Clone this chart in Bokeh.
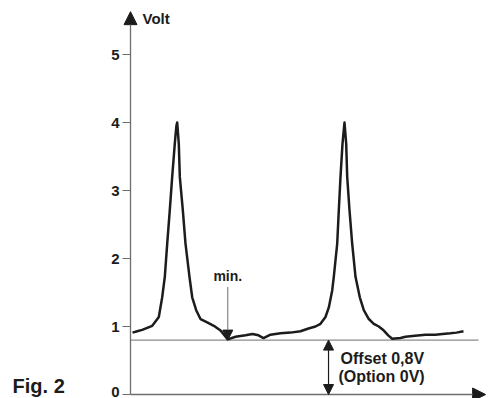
from bokeh.plotting import figure
from bokeh.models import Range1d, Arrow, NormalHead, Label, ColumnDataSource
from bokeh.core.properties import value
from bokeh.embed import file_html
from bokeh.resources import INLINE

# ---- data (time in arbitrary units 0..100, voltage in V) ----
time = [0.57, 1.90, 3.31, 4.73, 6.15, 6.60, 8.02, 8.98, 9.72, 10.40, 11.13, 11.81,
        12.55, 12.75, 13.03, 13.23, 13.68, 13.97, 14.82, 15.58, 16.71, 17.48, 18.61,
        19.83, 21.73, 23.60, 25.50, 27.56, 29.75, 32.58, 34.56, 36.26, 37.68, 39.66,
        42.49, 45.33, 48.16, 50.42, 52.41, 53.82, 55.24, 56.18, 57.14, 57.59, 58.56,
        59.01, 59.49, 60.06, 60.62, 61.10, 61.39, 62.04, 62.80, 63.74, 64.96, 66.09,
        67.51, 68.92, 70.34, 71.76, 73.00, 74.14, 76.49, 77.90, 79.89, 83.57, 86.40,
        88.39, 90.65, 92.35, 94.33]
volt = [0.91, 0.93, 0.95, 0.98, 1.01, 1.04, 1.14, 1.43, 1.73, 2.22, 2.71, 3.20,
        3.69, 3.81, 3.96, 4.00, 3.69, 3.20, 2.71, 2.22, 1.73, 1.43, 1.24,
        1.11, 1.06, 1.01, 0.94, 0.81, 0.85, 0.87, 0.89, 0.87, 0.83, 0.88,
        0.90, 0.91, 0.93, 0.97, 1.00, 1.04, 1.14, 1.28, 1.53, 1.73, 2.22,
        2.71, 3.20, 3.69, 4.00, 3.69, 3.20, 2.71, 2.22, 1.73, 1.43, 1.24,
        1.11, 1.04, 1.00, 0.94, 0.87, 0.82, 0.83, 0.85, 0.86, 0.88, 0.88,
        0.89, 0.90, 0.91, 0.93]

y_ticks = [0, 1, 2, 3, 4, 5]
y_tick_labels = ["0", "1", "2", "3", "4", "5"]
offset_level = 0.8
min_time = 27.56
axis_label = "Volt"
min_label = "min."
offset_text = ["Offset 0,8V", "(Option 0V)"]
fig_label = "Fig. 2"

# ---- layout ----
W, H = 491, 398
PX_PER_UNIT_X = 3.53     # px per time unit
PX_PER_V = 68.0          # px per volt
AXIS_X = 130             # px from left to the time origin
AXIS_Y = 394             # px from top to the 0 V line
x_lo = -AXIS_X / PX_PER_UNIT_X
x_hi = (W - AXIS_X) / PX_PER_UNIT_X
y_lo = -(H - AXIS_Y) / PX_PER_V
y_hi = AXIS_Y / PX_PER_V

FONT = "Liberation Sans"
INK = "#1c1c1c"
GREY = "#6e6e6e"

p = figure(width=W, height=H, output_backend="svg", toolbar_location=None,
           x_range=Range1d(x_lo, x_hi), y_range=Range1d(y_lo, y_hi),
           x_axis_location=None, y_axis_location=None,
           min_border_left=0, min_border_right=0, min_border_top=0, min_border_bottom=0)
p.outline_line_color = None
p.xgrid.visible = False
p.ygrid.visible = False
p.background_fill_color = "white"
p.border_fill_color = "white"

# y ticks and tick labels
tick_src = ColumnDataSource(dict(
    y=y_ticks, label=y_tick_labels,
    x0=[0.0] * len(y_ticks),
    dy=[-3 if t == 0 else 0 for t in y_ticks],
))
p.ray(x="x0", y="y", length=8, length_units="screen", angle=3.14159265,
      source=tick_src, line_color=GREY, line_width=1)
p.text(x="x0", y="y", text="label", source=tick_src, x_offset=-11, y_offset="dy",
       text_align="right", text_baseline="middle", text_font=value(FONT),
       text_font_style="bold", text_font_size="15px", text_color=INK)

# offset level line
p.segment(x0=[0], y0=[offset_level], x1=[98.6], y1=[offset_level],
          line_color=GREY, line_width=1)

# signal
p.line(time, volt, line_color=INK, line_width=2.5, line_join="round")

# axes arrows
p.add_layout(Arrow(end=NormalHead(size=13, fill_color=INK, line_color=INK),
                   x_start=0, y_start=0, x_end=0, y_end=5.63,
                   line_color=GREY, line_width=1.3))
p.add_layout(Arrow(end=NormalHead(size=13, fill_color=INK, line_color=INK),
                   x_start=0, y_start=0, x_end=100.6, y_end=0,
                   line_color=GREY, line_width=1.3))

# min marker
p.add_layout(Arrow(end=NormalHead(size=10, fill_color=INK, line_color=INK),
                   x_start=min_time, y_start=1.58, x_end=min_time, y_end=offset_level,
                   line_color=GREY, line_width=1))
p.add_layout(Label(x=min_time, y=1.74, text=min_label, text_align="center",
                   text_baseline="middle", text_font=FONT, text_font_style="bold",
                   text_font_size="14px", text_color=INK))

# offset double arrow
p.add_layout(Arrow(start=NormalHead(size=10, fill_color=INK, line_color=INK),
                   end=NormalHead(size=10, fill_color=INK, line_color=INK),
                   x_start=56.1, y_start=offset_level, x_end=56.1, y_end=0,
                   line_color=INK, line_width=1.2))
p.add_layout(Label(x=59.5, y=0.53, text=offset_text[0], text_align="left",
                   text_baseline="middle", text_font=FONT, text_font_style="bold",
                   text_font_size="16px", text_color=INK))
p.add_layout(Label(x=58.9, y=0.26, text=offset_text[1], text_align="left",
                   text_baseline="middle", text_font=FONT, text_font_style="bold",
                   text_font_size="16px", text_color=INK))

# axis title
p.add_layout(Label(x=3.4, y=5.53, text=axis_label, text_align="left",
                   text_baseline="middle", text_font=FONT, text_font_style="bold",
                   text_font_size="15px", text_color=INK))

# figure caption
p.add_layout(Label(x=-33.4, y=-0.04, text=fig_label, text_align="left",
                   text_baseline="bottom", text_font=FONT, text_font_style="bold",
                   text_font_size="20px", text_color=INK))

open("out.html", "w").write(file_html(p, INLINE))
